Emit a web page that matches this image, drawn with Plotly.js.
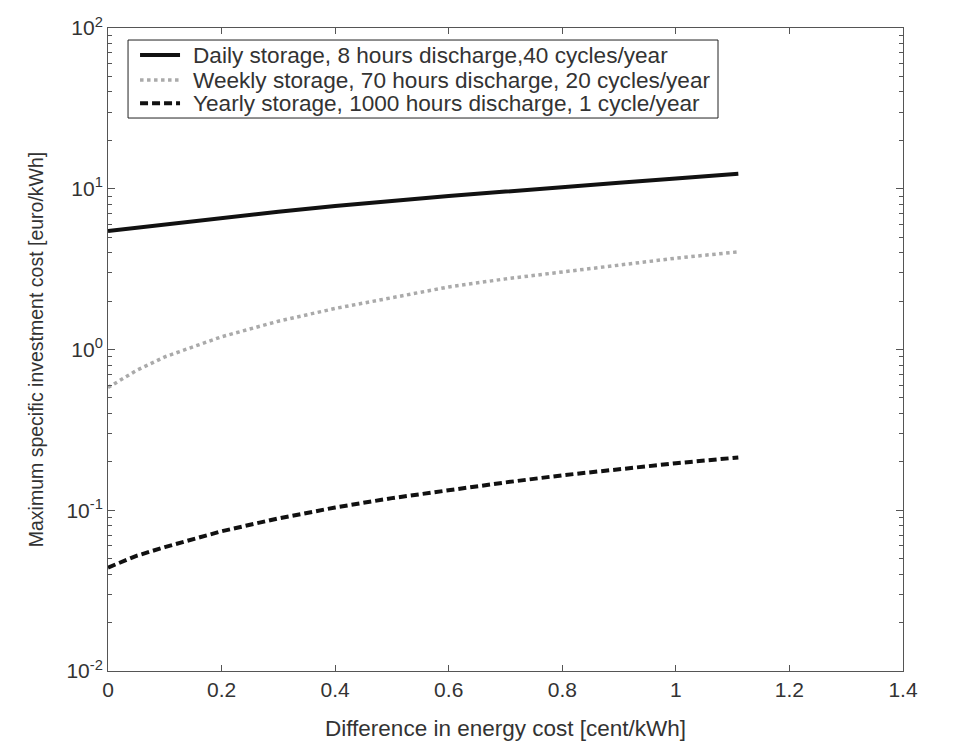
<!DOCTYPE html>
<html>
<head>
<meta charset="utf-8">
<script src="https://cdn.plot.ly/plotly-3.0.1.min.js"></script>
<style>body{margin:0;background:#fff}#chart{width:958px;height:751px}</style>
</head>
<body>
<div id="chart"></div>
<script>
const xDaily = [0, 0.1, 0.2, 0.3, 0.4, 0.5, 0.6, 0.7, 0.8, 0.9, 1.0, 1.11];
const yDaily = [5.45, 6.0, 6.6, 7.2, 7.8, 8.4, 9.0, 9.6, 10.3, 10.9, 11.6, 12.4];
const xWeekly = [0, 0.05, 0.1, 0.2, 0.3, 0.4, 0.5, 0.6, 0.7, 0.8, 0.9, 1.0, 1.11];
const yWeekly = [0.58, 0.74, 0.9, 1.2, 1.5, 1.8, 2.1, 2.45, 2.75, 3.05, 3.35, 3.7, 4.05];
const xYearly = [0, 0.05, 0.1, 0.2, 0.3, 0.4, 0.5, 0.6, 0.7, 0.8, 0.9, 1.0, 1.11];
const yYearly = [0.044, 0.052, 0.059, 0.074, 0.089, 0.104, 0.119, 0.134, 0.149, 0.165, 0.18, 0.196, 0.213];
const names = [
  "Daily storage, 8 hours discharge,40 cycles/year",
  "Weekly storage, 70 hours discharge, 20 cycles/year",
  "Yearly storage, 1000 hours discharge, 1 cycle/year"
];
const yTickVals = [0.01, 0.1, 1, 10, 100];
const yTickText = ["10<sup>-2</sup>", "10<sup>-1</sup>", "10<sup>0</sup>", "10<sup>1</sup>", "10<sup>2</sup>"];
const xTickVals = [0, 0.2, 0.4, 0.6, 0.8, 1, 1.2, 1.4];
const xTickText = ["0", "0.2", "0.4", "0.6", "0.8", "1", "1.2", "1.4"];

const styles = [
  {color: "#111", width: 4, dash: "solid"},
  {color: "#aaaaaa", width: 3.5, dash: "dot"},
  {color: "#111", width: 4, dash: "8px,4px"}
];
const xs = [xDaily, xWeekly, xYearly];
const ys = [yDaily, yWeekly, yYearly];
const traces = names.map((n, i) => ({x: xs[i], y: ys[i], name: n, mode: "lines", line: styles[i], showlegend: false}));

const fam = "Liberation Sans, Arial, sans-serif";
const txt = "#333";

// hand-built legend box (paper coords) so the row spacing matches the reference
const legX0 = 0.0252, legX1 = 0.7673, legY0 = 0.860, legY1 = 0.9813;
const rowY = [0.958, 0.919, 0.883];
const shapes = [{type: "rect", xref: "paper", yref: "paper", x0: legX0, x1: legX1, y0: legY0, y1: legY1,
  line: {color: "#222", width: 1}, fillcolor: "#fff", layer: "above"}];
const annotations = [];
names.forEach((n, i) => {
  shapes.push({type: "line", xref: "paper", yref: "paper", x0: 0.0403, x1: 0.0906, y0: rowY[i], y1: rowY[i],
    line: {color: styles[i].color, width: styles[i].width, dash: styles[i].dash}, layer: "above"});
  annotations.push({xref: "paper", yref: "paper", x: 0.104, y: rowY[i], xanchor: "left", yanchor: "middle",
    text: n, showarrow: false, font: {family: fam, size: 22.6, color: txt}});
});

const layout = {
  width: 958, height: 751,
  margin: {l: 108, r: 55, t: 28, b: 80},
  paper_bgcolor: "#fff", plot_bgcolor: "#fff",
  font: {family: fam, size: 21, color: txt},
  shapes: shapes,
  annotations: annotations,
  xaxis: {
    range: [0, 1.4], tickvals: xTickVals, ticktext: xTickText,
    showgrid: false, zeroline: false, showline: true, linecolor: "#555", linewidth: 1,
    mirror: "ticks", ticks: "inside", ticklen: 6, tickcolor: "#555",
    tickfont: {family: fam, size: 21, color: txt},
    title: {text: "Difference in energy cost [cent/kWh]", font: {family: fam, size: 22.5, color: txt}, standoff: 20}
  },
  yaxis: {
    type: "log", range: [-2, 2], tickvals: yTickVals, ticktext: yTickText,
    showgrid: false, zeroline: false, showline: true, linecolor: "#555", linewidth: 1,
    mirror: "ticks", ticks: "inside", ticklen: 7, tickcolor: "#555",
    minor: {dtick: "D1", ticks: "inside", ticklen: 4, tickcolor: "#555", showgrid: false},
    tickfont: {family: fam, size: 21, color: txt},
    title: {text: "Maximum specific investment cost [euro/kWh]", font: {family: fam, size: 19.5, color: txt}, standoff: 17}
  }
};
Plotly.newPlot("chart", traces, layout, {displayModeBar: false, staticPlot: true});
</script>
</body>
</html>
